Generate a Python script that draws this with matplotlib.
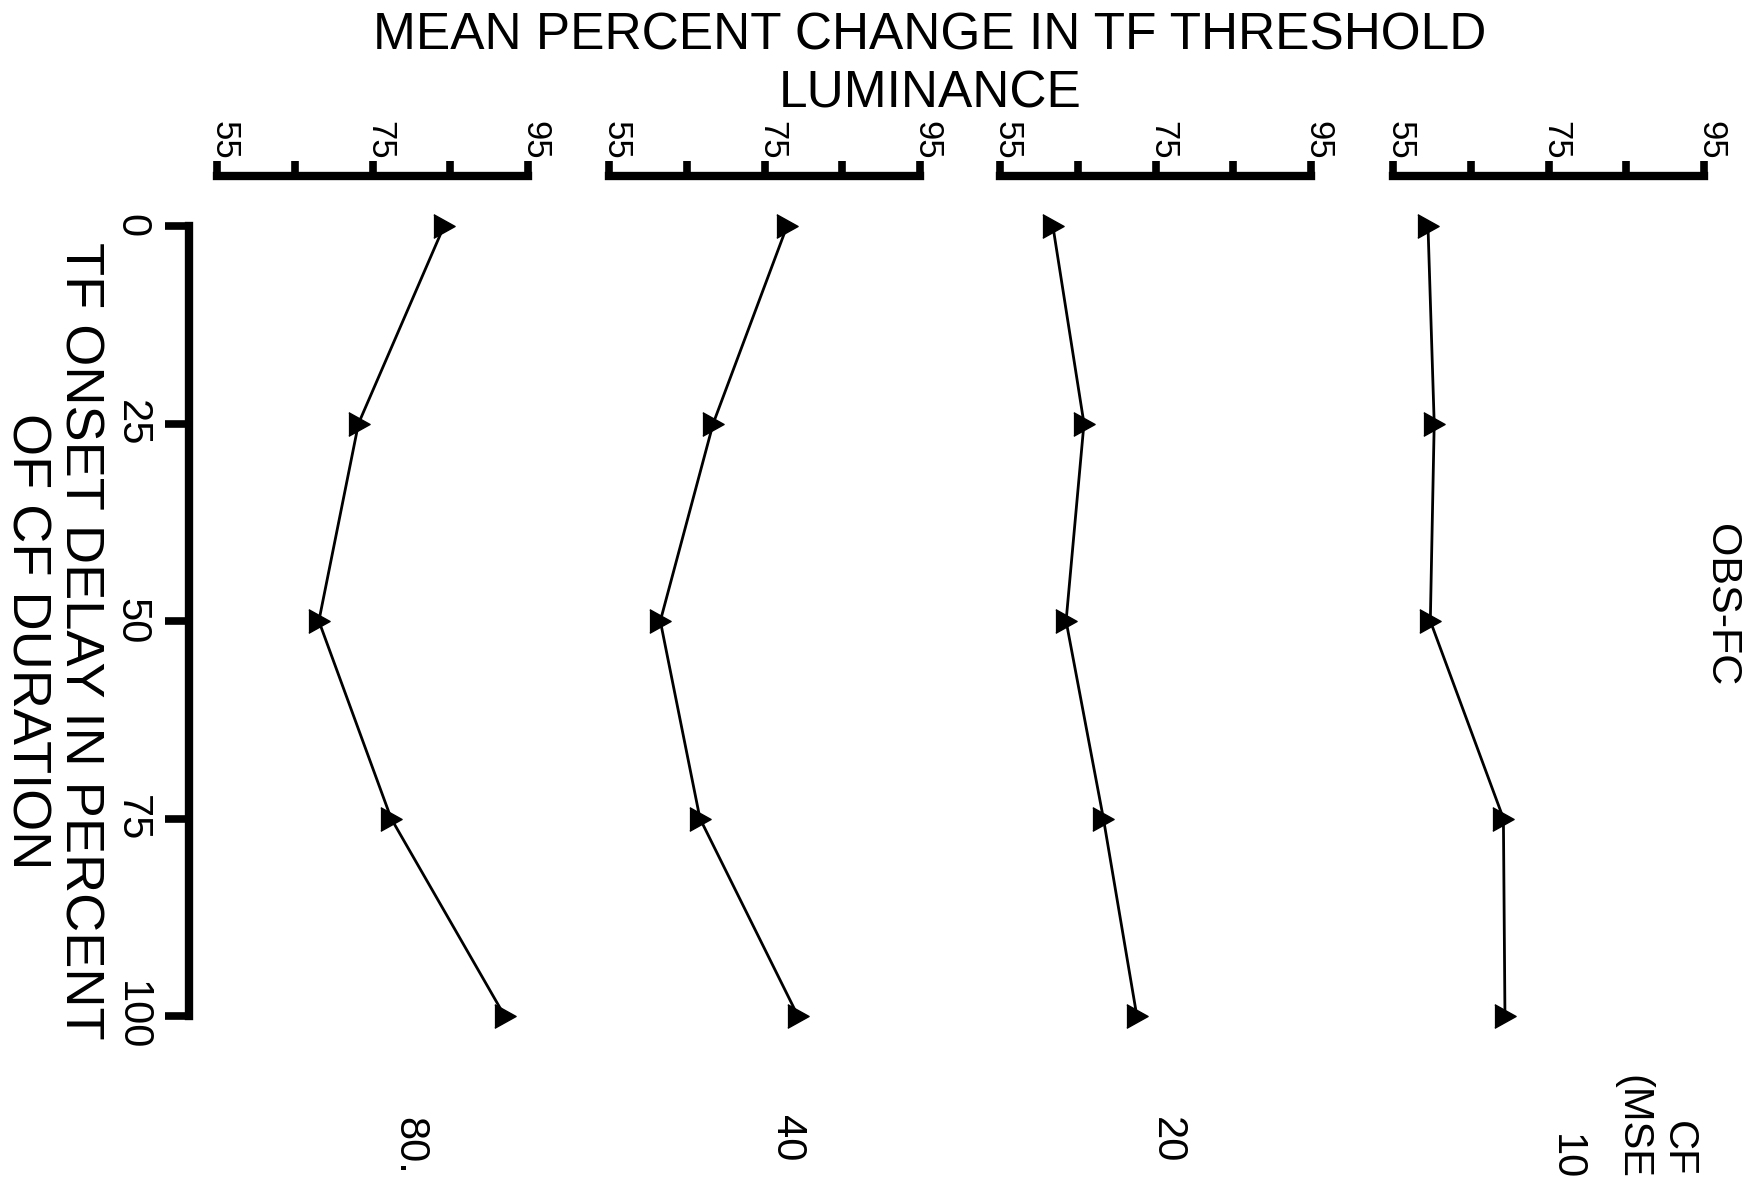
import matplotlib.pyplot as plt
from matplotlib import font_manager
from matplotlib.transforms import ScaledTranslation

plt.rcParams['font.family'] = ['Liberation Sans', 'DejaVu Sans']

# --- data ---
delay = [0, 25, 50, 75, 100]            # TF onset delay, % of CF duration
cf_labels = ['80.', '40', '20', '10']   # CF duration (msec), left to right
lum_80 = [84.2, 73.2, 68.1, 77.4, 92.0]
lum_40 = [77.9, 68.4, 61.6, 66.7, 79.3]
lum_20 = [61.8, 65.8, 63.5, 68.3, 72.6]
lum_10 = [59.5, 60.3, 59.8, 69.2, 69.4]
lum_ticks = [55, 65, 75, 85, 95]
lum_ticklabels = ['55', '', '75', '', '95']
delay_ticks = [0, 25, 50, 75, 100]
delay_ticklabels = ['0', '25', '50', '75', '100']

W, H = 1742, 1177


def fx(x):
    return x / W


def fy(y):
    return 1 - y / H


def main():
    fig = plt.figure(figsize=(W / 100, H / 100), dpi=100)

    # condensed digits on the luminance scales, if the narrow face exists
    names = {f.name for f in font_manager.fontManager.ttflist}
    if 'Liberation Sans Narrow' in names:
        tick_font, tick_size = 'Liberation Sans Narrow', 28
    else:
        tick_font, tick_size = 'Liberation Sans', 25

    # layout in pixels
    panel_left = [217, 609, 1000, 1393]
    panel_w = 311
    top_px, bot_px = 176, 1050
    label_pos = [(409, 1146), (787, 1138), (1167, 1140), (1566, 1157)]
    tri = [(-0.45, -0.5), (0.45, 0.0), (-0.45, 0.5)]   # right-pointing triangle

    series = [lum_80, lum_40, lum_20, lum_10]
    shift = ScaledTranslation(5 / 72, 0, fig.dpi_scale_trans)

    for i, vals in enumerate(series):
        ax = fig.add_axes([fx(panel_left[i]), fy(bot_px),
                           panel_w / W, (bot_px - top_px) / H])
        ax.plot(vals, delay, color='black', lw=2, marker=tri, ms=17,
                clip_on=False)
        ax.set_xlim(55, 95)
        ax.set_ylim(104.3, -6.33)
        ax.set_facecolor('none')

        # luminance axis on top
        ax.xaxis.set_ticks_position('top')
        ax.set_xticks(lum_ticks, lum_ticklabels)
        ax.tick_params(axis='x', direction='out', length=11, width=5.5,
                       labelsize=tick_size, pad=1, labelrotation=-90,
                       color='black')
        for lab in ax.get_xticklabels():
            lab.set_family(tick_font)
            lab.set_transform(lab.get_transform() + shift)
        for s in ['bottom', 'right', 'left']:
            ax.spines[s].set_visible(False)
        ax.spines['top'].set_linewidth(6)
        ax.spines['top'].set_capstyle('projecting')

        if i == 0:
            # shared delay axis on the left
            ax.spines['left'].set_visible(True)
            ax.spines['left'].set_position(('outward', 20))
            ax.spines['left'].set_bounds(0, 100)
            ax.spines['left'].set_linewidth(6)
            ax.spines['left'].set_capstyle('projecting')
            ax.set_yticks(delay_ticks, delay_ticklabels)
            ax.tick_params(axis='y', direction='out', length=17, width=5.5,
                           labelsize=30, pad=10, labelrotation=-90)
            plt.setp(ax.get_yticklabels(), va='center')
        else:
            ax.set_yticks([])

        fig.text(fx(label_pos[i][0]), fy(label_pos[i][1]), cf_labels[i],
                 rotation=-90, ha='center', va='center', fontsize=30)

    # titles and labels
    fig.text(fx(930), fy(50), 'MEAN PERCENT CHANGE IN TF THRESHOLD',
             ha='center', va='baseline', fontsize=37)
    fig.text(fx(930), fy(107), 'LUMINANCE',
             ha='center', va='baseline', fontsize=37)
    fig.text(fx(53), fy(641), 'TF ONSET DELAY IN PERCENT\nOF CF DURATION',
             rotation=-90, ha='center', va='center', multialignment='center',
             fontsize=39, linespacing=1.1)
    fig.text(fx(1721), fy(605), 'OBS-FC', rotation=-90,
             ha='center', va='center', fontsize=31)
    fig.text(fx(1655), fy(1149), 'CF\n(MSEC)', rotation=-90,
             ha='center', va='center', multialignment='center',
             fontsize=30, linespacing=1.2)

    fig.savefig('out.png', dpi=100, facecolor='white')


if __name__ == "__main__":
    main()
